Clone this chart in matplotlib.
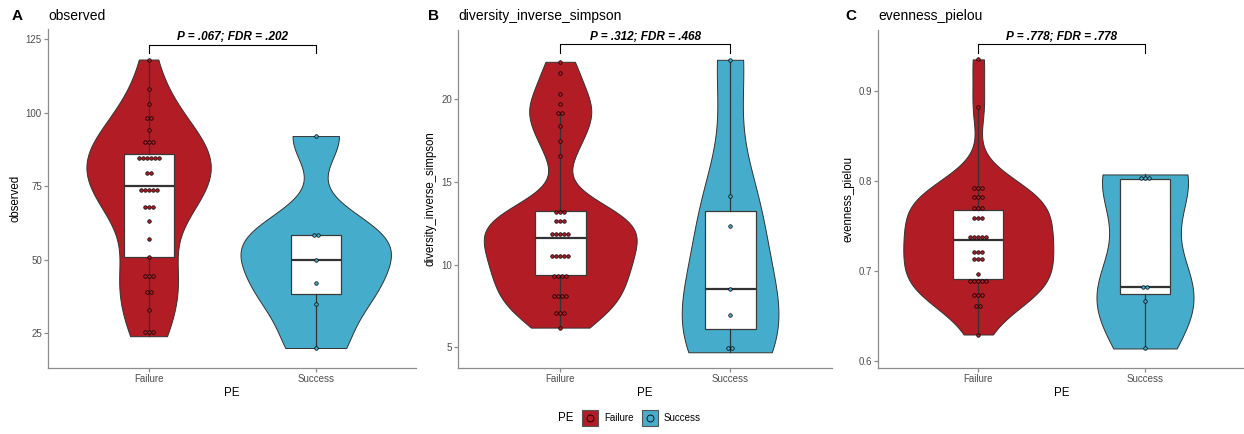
import numpy as np
import matplotlib
matplotlib.use('Agg')
import matplotlib.pyplot as plt
from matplotlib.lines import Line2D
from matplotlib.legend_handler import HandlerTuple

plt.rcParams['font.family'] = ['Liberation Sans', 'DejaVu Sans']

groups = ['Failure', 'Success']
colors = ['#B11C25', '#45ADCB']
metrics = ['observed', 'diversity_inverse_simpson', 'evenness_pielou']
tags = ['A', 'B', 'C']
stat_labels = ['P = .067; FDR = .202', 'P = .312; FDR = .468', 'P = .778; FDR = .778']

observed_failure = [24, 25, 27, 33, 38.5, 39.5, 43.5, 44.5, 45.5, 51, 57, 63, 67, 68, 69,
                    72, 73, 74, 75, 75.5, 79, 80, 83, 84, 84.5, 85, 85.5, 86, 89, 90, 91,
                    94, 98, 98.5, 103, 108, 118]
observed_success = [20, 35, 42, 50, 58.5, 58.5, 92]

invsimpson_failure = [6.19, 7.0, 7.05, 7.1, 8.0, 8.1, 8.15, 8.25, 9.15, 9.34, 9.38, 9.42,
                      10.3, 10.4, 10.5, 10.6, 10.68, 11.58, 11.61, 11.9, 12.0, 12.1,
                      12.55, 12.66, 12.77, 13.12, 13.2, 13.26, 16.58, 17.49, 18.35,
                      19.1, 19.25, 19.72, 20.30, 21.59, 22.25]
invsimpson_success = [4.7, 5.2, 6.97, 8.54, 12.34, 14.13, 22.37]

pielou_failure = [0.6292, 0.6575, 0.664, 0.670, 0.674, 0.677, 0.6845, 0.686, 0.689, 0.691,
                  0.692, 0.6959, 0.7095, 0.713, 0.716, 0.7185, 0.721, 0.7235, 0.7343,
                  0.737, 0.739, 0.740, 0.741, 0.755, 0.759, 0.762, 0.7665, 0.768, 0.774,
                  0.778, 0.782, 0.785, 0.788, 0.792, 0.795, 0.8822, 0.9348]
pielou_success = [0.6137, 0.6666, 0.6815, 0.6825, 0.800, 0.804, 0.807]

panel_data = [[observed_failure, observed_success],
              [invsimpson_failure, invsimpson_success],
              [pielou_failure, pielou_success]]

W, H = 1244, 434
# layout per panel (pixel geometry of the plot area, limits, bracket, dot bin width)
layout = [
    dict(x0=48.3, x1=416.0, ylim=(13.2, 128.2), yticks=[25, 50, 75, 100, 125],
         bracket=(120.1, 123.1), binwidth=4.0, tag_x=12),
    dict(x0=458.3, x1=832.0, ylim=(3.75, 24.2), yticks=[5, 10, 15, 20],
         bracket=(22.77, 23.3), binwidth=0.55, tag_x=428),
    dict(x0=878.3, x1=1245.0, ylim=(0.592, 0.968), yticks=[0.6, 0.7, 0.8, 0.9],
         bracket=(0.942, 0.9514), binwidth=0.0078, tag_x=845),
]
top_px, bottom_px = 29.5, 368.0


def kde(vals, grid):
    v = np.asarray(vals, float)
    n = len(v)
    sd = v.std(ddof=1)
    q75, q25 = np.percentile(v, [75, 25])
    bw = 0.9 * min(sd, (q75 - q25) / 1.34) * n ** -0.2
    z = (grid[:, None] - v[None, :]) / bw
    return np.exp(-0.5 * z ** 2).sum(1) / (n * bw * np.sqrt(2 * np.pi))


def dot_bins(vals, bw):
    v = sorted(vals)
    bins, cur = [], [v[0]]
    for x in v[1:]:
        if x >= cur[0] + bw - 1e-12:
            bins.append(cur)
            cur = [x]
        else:
            cur.append(x)
    bins.append(cur)
    return [((b[0] + b[-1]) / 2, len(b)) for b in bins]


fig = plt.figure(figsize=(W / 100, H / 100), dpi=100)
axis_grey = '#8c8c8c'
edge = '#333333'

for k, (data, lay) in enumerate(zip(panel_data, layout)):
    rect = [lay['x0'] / W, (H - bottom_px) / H, (lay['x1'] - lay['x0']) / W,
            (bottom_px - top_px) / H]
    ax = fig.add_axes(rect)

    # violins (area scaled, trimmed)
    grids, dens = [], []
    for vals in data:
        g = np.linspace(min(vals), max(vals), 512)
        grids.append(g)
        dens.append(kde(vals, g))
    dmax = max(d.max() for d in dens)
    for i, (g, d) in enumerate(zip(grids, dens)):
        half = 0.45 * d / dmax
        ax.fill_betweenx(g, i + 1 - half, i + 1 + half, facecolor=colors[i],
                         edgecolor=edge, linewidth=0.7, zorder=1)

    # boxplots
    ax.boxplot(data, positions=[1, 2], widths=0.3, patch_artist=True,
               showfliers=False, showcaps=False, whis=1.5,
               boxprops=dict(facecolor='white', edgecolor='#3a3a3a', linewidth=0.9),
               medianprops=dict(color='#333333', linewidth=1.6),
               whiskerprops=dict(color='#333333', linewidth=0.9), zorder=2)

    # centred dot stacks
    px_per_unit = (lay['x1'] - lay['x0']) / 2.2
    dx = 4.0 / px_per_unit
    for i, vals in enumerate(data):
        for center, count in dot_bins(vals, lay['binwidth']):
            offs = (np.arange(count) - (count - 1) / 2) * dx
            ax.scatter(i + 1 + offs, [center] * count, s=6.5, facecolor=colors[i],
                       edgecolor='black', linewidth=0.5, zorder=4)

    # comparison bracket
    tip, top = lay['bracket']
    ax.plot([1, 1, 2, 2], [tip, top, top, tip], color='black', lw=0.8,
            clip_on=False, zorder=5)
    ax.annotate(stat_labels[k], (1.5, top), xytext=(0, 1.0), textcoords='offset points',
                ha='center', va='bottom', fontsize=8.5, fontweight='bold',
                fontstyle='italic', annotation_clip=False)

    ax.set_xlim(0.4, 2.6)
    ax.set_ylim(*lay['ylim'])
    ax.set_xticks([1, 2], groups)
    ax.set_yticks(lay['yticks'])
    if k == 2:
        ax.set_yticklabels([f'{t:.1f}' for t in lay['yticks']])
    for s in ['top', 'right']:
        ax.spines[s].set_visible(False)
    for s in ['left', 'bottom']:
        ax.spines[s].set_color(axis_grey)
        ax.spines[s].set_linewidth(0.9)
    ax.tick_params(length=2.8, width=0.9, color=axis_grey, labelsize=7,
                   labelcolor='#4d4d4d', pad=1.8)
    ax.set_xlabel('PE', fontsize=8.3, labelpad=2)
    ax.set_ylabel(metrics[k], fontsize=8.3, labelpad=3)
    ax.set_title(metrics[k], loc='left', fontsize=10, pad=6.8)
    fig.text(lay['tag_x'] / W, 1 - 20 / H, tags[k], fontsize=11, fontweight='bold',
             va='baseline', ha='left')

# legend: filled square key with a dot on top
handles = [(Line2D([], [], marker='s', ls='none', markerfacecolor=c,
                   markeredgecolor='#555555', markersize=12, markeredgewidth=0.8),
            Line2D([], [], marker='o', ls='none', markerfacecolor=c,
                   markeredgecolor='black', markersize=5, markeredgewidth=0.6))
           for c in colors]
fig.legend(handles, groups, handler_map={tuple: HandlerTuple(ndivide=1, pad=0)},
           loc='center', bbox_to_anchor=(641.4 / W, 16 / H), ncol=2, frameon=False,
           fontsize=7, handlelength=1.75, handletextpad=0.6,
           columnspacing=0.7, borderpad=0)
fig.text(565.5 / W, 16 / H, 'PE', ha='center', va='center', fontsize=8.3)

fig.savefig('out.png', dpi=100)
